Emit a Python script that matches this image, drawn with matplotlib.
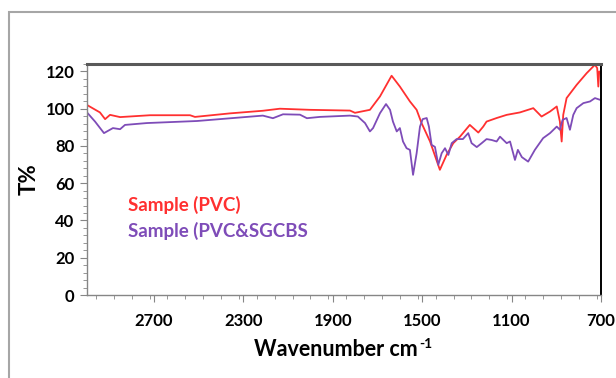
import matplotlib
matplotlib.use("Agg")
import matplotlib.pyplot as plt
from matplotlib.patches import Rectangle
from matplotlib.ticker import MultipleLocator, FixedLocator

# FTIR spectra (wavenumber cm-1, T%)
pvc_wn = [3000, 2942, 2919, 2897, 2852, 2718, 2539, 2517, 2360, 2213, 2137, 2002,
          1823, 1801, 1734, 1689, 1637, 1600, 1555, 1525, 1503, 1465, 1421, 1391,
          1361, 1331, 1287, 1249, 1227, 1212, 1167, 1122, 1063, 1003, 966, 928,
          898, 884, 876, 869, 854, 809, 764, 727, 717, 712, 708, 700]
pvc_t = [102.0, 98.0, 94.4, 96.7, 95.5, 96.5, 96.5, 95.6, 97.5, 98.9, 100.0, 99.4,
         99.0, 97.8, 99.4, 106.6, 117.7, 111.9, 103.9, 99.4, 92.3, 82.4, 67.2, 75.2,
         81.5, 85.0, 91.3, 87.2, 90.4, 93.1, 95.0, 96.7, 98.0, 100.3, 95.8, 98.5,
         101.2, 93.1, 82.4, 96.7, 105.7, 112.8, 119.1, 123.6, 121.8, 111.9, 120.0, 119.0]

blend_wn = [3000, 2964, 2924, 2884, 2852, 2830, 2732, 2508, 2213, 2168, 2123, 2047,
            2016, 1958, 1823, 1788, 1756, 1734, 1720, 1689, 1662, 1644, 1631, 1614,
            1600, 1586, 1570, 1555, 1541, 1525, 1510, 1498, 1480, 1470, 1458, 1443,
            1428, 1413, 1398, 1383, 1368, 1346, 1318, 1294, 1279, 1256, 1234, 1212,
            1189, 1167, 1152, 1122, 1107, 1085, 1072, 1054, 1026, 996, 959, 928,
            898, 884, 872, 854, 839, 824, 809, 779, 749, 727, 705, 700]
blend_t = [98.0, 93.1, 86.9, 89.6, 89.0, 91.3, 92.3, 93.4, 96.3, 94.9, 97.0, 96.8,
           94.9, 95.6, 96.3, 95.8, 92.3, 87.8, 89.6, 97.6, 102.5, 99.4, 93.1, 87.8,
           89.6, 82.4, 78.8, 77.9, 64.5, 76.1, 90.4, 94.4, 95.0, 90.4, 80.6, 79.5,
           69.9, 76.1, 78.8, 75.2, 81.5, 83.7, 83.7, 86.9, 81.5, 79.4, 81.5, 83.7,
           83.2, 82.4, 85.0, 81.5, 82.4, 72.5, 77.9, 74.0, 71.6, 77.9, 84.2, 86.9,
           90.4, 88.7, 94.0, 95.0, 88.7, 96.7, 100.3, 103.0, 103.9, 105.7, 104.8, 105.0]

x_ticks = [2700, 2300, 1900, 1500, 1100, 700]
y_ticks = [0, 20, 40, 60, 80, 100, 120]

RED = "#ff3030"
PURPLE = "#7e4cb8"
FONT = ["Lato", "DejaVu Sans"]

plt.rcParams["font.family"] = FONT
plt.rcParams["font.weight"] = "bold"

fig = plt.figure(figsize=(6.16, 3.78), dpi=100)
ax = fig.add_axes([87 / 616, 1 - 295 / 378, 514 / 616, 231 / 378])

# outer chart frame (only top and left edges visible in the reference)
fig.patches.append(Rectangle((9 / 616, -0.2), 1.2, 1 - 12 / 378 + 0.2,
                             transform=fig.transFigure, fill=False,
                             edgecolor="#a6a6a6", linewidth=1.5))

ax.plot(pvc_wn, pvc_t, color=RED, linewidth=1.3)
ax.plot(blend_wn, blend_t, color=PURPLE, linewidth=1.3)

ax.set_xlim(3000, 700)
ax.set_ylim(0, 124)
ax.xaxis.set_major_locator(FixedLocator(x_ticks))
ax.xaxis.set_minor_locator(MultipleLocator(80))
ax.yaxis.set_major_locator(FixedLocator(y_ticks))
ax.yaxis.set_minor_locator(MultipleLocator(4))

ax.tick_params(which="major", length=5, color="#868686", labelsize=12, pad=8)
ax.tick_params(which="minor", length=3, color="#868686")
ax.tick_params(axis="y", which="major", pad=4)
for lbl in ax.get_xticklabels() + ax.get_yticklabels():
    lbl.set_fontweight("bold")

for side in ["left", "bottom"]:
    ax.spines[side].set_color("#868686")
    ax.spines[side].set_linewidth(1.0)
ax.spines["top"].set_color("#595959")
ax.spines["top"].set_linewidth(2.2)
ax.spines["right"].set_color("black")
ax.spines["right"].set_linewidth(1.4)

ax.set_ylabel("T%", fontsize=16, fontweight="bold", labelpad=4)

# x label with a plain hyphen superscript, as in the reference
xl = fig.text(336 / 616, 1 - 350 / 378, "Wavenumber cm", fontsize=15.5,
              fontweight="bold", ha="center", va="center")
fig.canvas.draw()
bb = xl.get_window_extent()
fig.text((bb.x1 + 1) / 616, (bb.y1 - 4) / 378, "-1", fontsize=10,
         fontweight="bold", ha="left", va="center")

fig.text(128 / 616, 1 - 205 / 378, "Sample (PVC)", color=RED,
         fontsize=13.5, fontweight="bold", va="center")
fig.text(128 / 616, 1 - 231 / 378, "Sample (PVC&SGCBS", color=PURPLE,
         fontsize=13.5, fontweight="bold", va="center")

fig.savefig("out.png", dpi=100)
